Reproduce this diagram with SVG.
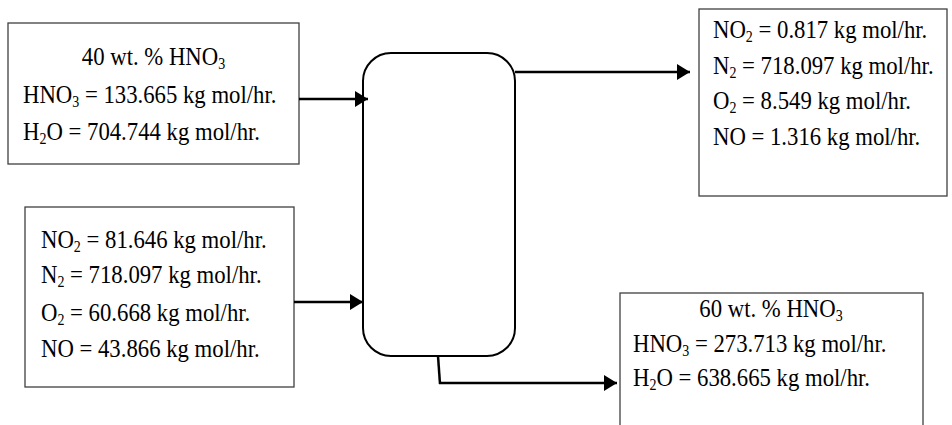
<svg xmlns="http://www.w3.org/2000/svg" width="952" height="425" viewBox="0 0 952 425">
<defs>
<style>
.box{fill:#fff;stroke:#404040;stroke-width:1.3}
.tower{fill:#fff;stroke:#000;stroke-width:2}
.t{font-family:"Liberation Serif","Times New Roman",serif;font-size:26px;fill:#000}
.s{font-size:16px}
.c{stroke:#000;stroke-width:2.5;fill:none}
</style>
<marker id="ah" markerUnits="userSpaceOnUse" markerWidth="13" markerHeight="16" refX="13" refY="8" orient="auto">
<path d="M0,0 L13,8 L0,16 z" fill="#000"/>
</marker>
</defs>
<rect width="952" height="425" fill="#fff"/>
<g id="feed-acid">
<rect class="box" x="8" y="23" width="291" height="141"/>
<text class="t" transform="translate(153.5,65) scale(0.875,1)" text-anchor="middle">40 wt. % HNO<tspan class="s" dy="4">3</tspan></text>
<text class="t" transform="translate(23,103) scale(0.875,1)">HNO<tspan class="s" dy="4">3</tspan><tspan dy="-4"> = 133.665 kg mol/hr.</tspan></text>
<text class="t" transform="translate(23,140) scale(0.875,1)">H<tspan class="s" dy="4">2</tspan><tspan dy="-4">O = 704.744 kg mol/hr.</tspan></text>
</g>
<g id="feed-gas">
<rect class="box" x="25" y="207" width="269" height="180"/>
<text class="t" transform="translate(41,248) scale(0.875,1)">NO<tspan class="s" dy="4">2</tspan><tspan dy="-4"> = 81.646 kg mol/hr.</tspan></text>
<text class="t" transform="translate(41,283) scale(0.875,1)">N<tspan class="s" dy="4">2</tspan><tspan dy="-4"> = 718.097 kg mol/hr.</tspan></text>
<text class="t" transform="translate(41,321) scale(0.875,1)">O<tspan class="s" dy="4">2</tspan><tspan dy="-4"> = 60.668 kg mol/hr.</tspan></text>
<text class="t" transform="translate(41,357) scale(0.875,1)">NO = 43.866 kg mol/hr.</text>
</g>
<g id="tower">
<rect class="tower" x="363" y="53" width="152" height="303" rx="28" ry="28"/>
</g>
<g id="gas-out">
<rect class="box" x="699" y="9" width="248" height="187"/>
<text class="t" transform="translate(713,38) scale(0.875,1)">NO<tspan class="s" dy="4">2</tspan><tspan dy="-4"> = 0.817 kg mol/hr.</tspan></text>
<text class="t" transform="translate(713,74) scale(0.875,1)">N<tspan class="s" dy="4">2</tspan><tspan dy="-4"> = 718.097 kg mol/hr.</tspan></text>
<text class="t" transform="translate(713,109) scale(0.875,1)">O<tspan class="s" dy="4">2</tspan><tspan dy="-4"> = 8.549 kg mol/hr.</tspan></text>
<text class="t" transform="translate(713,145) scale(0.875,1)">NO = 1.316 kg mol/hr.</text>
</g>
<g id="acid-out">
<rect class="box" x="620" y="293" width="303" height="150"/>
<text class="t" transform="translate(771,317) scale(0.875,1)" text-anchor="middle">60 wt. % HNO<tspan class="s" dy="4">3</tspan></text>
<text class="t" transform="translate(633,352) scale(0.875,1)">HNO<tspan class="s" dy="4">3</tspan><tspan dy="-4"> = 273.713 kg mol/hr.</tspan></text>
<text class="t" transform="translate(633,386) scale(0.875,1)">H<tspan class="s" dy="4">2</tspan><tspan dy="-4">O = 638.665 kg mol/hr.</tspan></text>
</g>
<g id="connectors">
<line class="c" x1="299" y1="99" x2="368" y2="99" marker-end="url(#ah)"/>
<line class="c" x1="294" y1="302" x2="363" y2="302" marker-end="url(#ah)"/>
<line class="c" x1="515" y1="72" x2="690" y2="72" marker-end="url(#ah)"/>
<polyline class="c" points="438,356 440,384"/>
<line class="c" x1="439" y1="383" x2="617" y2="383" marker-end="url(#ah)"/>
</g>
</svg>
